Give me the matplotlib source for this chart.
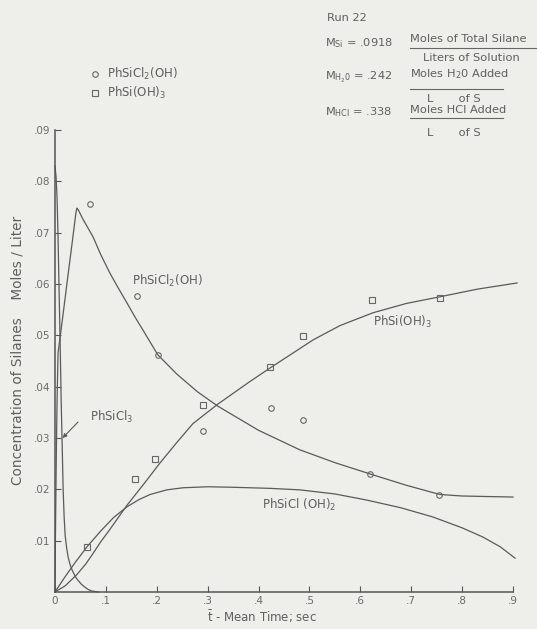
import matplotlib
matplotlib.use('Agg')
import matplotlib.pyplot as plt
from matplotlib.lines import Line2D

plt.rcParams['font.family'] = ['DejaVu Sans']

# ---------------- data ----------------
x_ticks = [0, .1, .2, .3, .4, .5, .6, .7, .8, .9]
x_tick_labels = ['0', '.1', '.2', '.3', '.4', '.5', '.6', '.7', '.8', '.9']
y_ticks = [.01, .02, .03, .04, .05, .06, .07, .08, .09]
y_tick_labels = ['.01', '.02', '.03', '.04', '.05', '.06', '.07', '.08', '.09']

# measured points: PhSiCl2(OH) (circles)
cl2oh_t = [0.069, 0.161, 0.202, 0.291, 0.424, 0.487, 0.619, 0.754]
cl2oh_c = [0.0756, 0.0577, 0.0462, 0.0314, 0.0359, 0.0335, 0.0230, 0.0189]
# measured points: PhSi(OH)3 (squares)
sioh3_t = [0.062, 0.157, 0.196, 0.291, 0.422, 0.487, 0.623, 0.756]
sioh3_c = [0.0088, 0.0220, 0.0259, 0.0364, 0.0438, 0.0499, 0.0569, 0.0573]

# curves
curve_cl3_t = [0.0, 0.002, 0.004, 0.006, 0.008, 0.010, 0.012, 0.014, 0.016, 0.018,
               0.020, 0.023, 0.026, 0.030, 0.034, 0.040, 0.045, 0.052, 0.058,
               0.065, 0.072, 0.085]
curve_cl3_c = [0.083, 0.081, 0.077, 0.069, 0.059, 0.049, 0.038, 0.029, 0.020, 0.0145,
               0.011, 0.0085, 0.0067, 0.0052, 0.0042, 0.0030, 0.0023, 0.0015, 0.0010,
               0.0005, 0.0002, 0.0]

curve_cl2oh_t = [0.0, 0.001, 0.0025, 0.004, 0.006, 0.010, 0.016, 0.024, 0.032, 0.038,
                 0.041, 0.043, 0.046, 0.055, 0.0747, 0.090, 0.108, 0.125, 0.1415, 0.157,
                 0.173, 0.202, 0.240, 0.280, 0.320, 0.400, 0.481, 0.550, 0.619, 0.690,
                 0.756, 0.800, 0.850, 0.900]
curve_cl2oh_c = [0.0, 0.012, 0.026, 0.037, 0.0466, 0.0496, 0.0542, 0.0605, 0.0667, 0.0714,
                 0.0738, 0.0748, 0.0744, 0.0726, 0.0692, 0.0657, 0.0621, 0.0591, 0.0563, 0.0536,
                 0.0510, 0.0462, 0.0424, 0.0390, 0.0362, 0.0315, 0.0277, 0.0252, 0.0230, 0.0208,
                 0.0190, 0.0187, 0.0186, 0.0185]

curve_sioh3_t = [0.0, 0.020, 0.043, 0.060, 0.0747, 0.090, 0.105, 0.1415, 0.175, 0.206,
                 0.240, 0.271, 0.320, 0.383, 0.422, 0.507, 0.560, 0.625, 0.690, 0.756,
                 0.830, 0.908]
curve_sioh3_c = [0.0, 0.0012, 0.0034, 0.0054, 0.0075, 0.0098, 0.0118, 0.0169, 0.0211, 0.0251,
                 0.0292, 0.0328, 0.0366, 0.0410, 0.0436, 0.0491, 0.0519, 0.0544, 0.0562, 0.0575,
                 0.0590, 0.0602]

curve_clo2_t = [0.0, 0.020, 0.040, 0.0629, 0.090, 0.115, 0.1415, 0.165, 0.187, 0.220,
                0.251, 0.300, 0.350, 0.420, 0.481, 0.550, 0.613, 0.680, 0.743, 0.800,
                0.841, 0.875, 0.904]
curve_clo2_c = [0.0, 0.0030, 0.0058, 0.0088, 0.0119, 0.0145, 0.0166, 0.0180, 0.0190, 0.0199,
                0.0203, 0.0205, 0.0204, 0.0202, 0.0199, 0.0191, 0.0179, 0.0164, 0.0146, 0.0125,
                0.0107, 0.0088, 0.0066]

# ---------------- figure ----------------
W, H = 537, 629
BG = '#eeeeeb'
INK = '#5a5a5a'
fig = plt.figure(figsize=(W / 100, H / 100), dpi=100)
fig.patch.set_facecolor(BG)


def P(x, y):
    return x / W, 1 - y / H


ax = fig.add_axes([55 / W, 1 - 592 / H, 458 / W, 462 / H])
ax.set_facecolor(BG)
ax.set_xlim(0, 0.9)
ax.set_ylim(0, 0.09)
for s in ['top', 'right']:
    ax.spines[s].set_visible(False)
for s in ['left', 'bottom']:
    ax.spines[s].set_color('#555555')
    ax.spines[s].set_linewidth(1.1)

ax.set_xticks(x_ticks)
ax.set_xticklabels(x_tick_labels)
ax.set_yticks(y_ticks)
ax.set_yticklabels(y_tick_labels)
ax.tick_params(axis='both', direction='in', length=4, width=0.8, color='#555555',
               labelsize=7.5, labelcolor='#6a6a6a', pad=3)

lw = 0.9
ax.plot(curve_cl3_t, curve_cl3_c, color=INK, lw=lw, clip_on=False)
ax.plot(curve_cl2oh_t, curve_cl2oh_c, color=INK, lw=lw, clip_on=False)
ax.plot(curve_sioh3_t, curve_sioh3_c, color=INK, lw=lw, clip_on=False)
ax.plot(curve_clo2_t, curve_clo2_c, color=INK, lw=lw, clip_on=False)

ax.plot(cl2oh_t, cl2oh_c, 'o', ms=4, mfc='none', mec='#666666', mew=0.8, ls='none')
ax.plot(sioh3_t, sioh3_c, 's', ms=3.8, mfc='none', mec='#666666', mew=0.8, ls='none')

tc = '#5f5f5f'
fs = 8.5
ax.text(0.151, 0.0606, r'PhSiCl$_2$(OH)', fontsize=fs, color=tc, va='center', ha='left')
ax.text(0.625, 0.0526, r'PhSi(OH)$_3$', fontsize=fs, color=tc, va='center', ha='left')
ax.text(0.069, 0.0341, r'PhSiCl$_3$', fontsize=fs, color=tc, va='center', ha='left')
ax.text(0.407, 0.0170, r'PhSiCl (OH)$_2$', fontsize=fs, color=tc, va='center', ha='left')
ax.annotate('', xy=(0.011, 0.0296), xytext=(0.049, 0.0335),
            arrowprops=dict(arrowstyle='-|>', color=INK, lw=0.8, mutation_scale=6))

# axis labels
fig.text(*P(18, 350), 'Concentration of Silanes    Moles / Liter', rotation=90,
         fontsize=9.8, color=tc, ha='center', va='center')
fig.text(*P(262, 617), r'$\bar{\mathrm{t}}$ - Mean Time; sec', fontsize=8.5, color=tc,
         ha='center', va='center')

# legend
fig.add_artist(Line2D([95 / W], [1 - 74 / H], marker='o', ms=4, mfc='none', mec='#666666',
                      mew=0.8, ls='none', transform=fig.transFigure))
fig.add_artist(Line2D([95 / W], [1 - 93 / H], marker='s', ms=3.8, mfc='none', mec='#666666',
                      mew=0.8, ls='none', transform=fig.transFigure))
fig.text(*P(107, 74), r'PhSiCl$_2$(OH)', fontsize=fs, color=tc, va='center', ha='left')
fig.text(*P(107, 93), r'PhSi(OH)$_3$', fontsize=fs, color=tc, va='center', ha='left')

# top right block
fs2 = 8.2
fig.text(*P(327, 18), 'Run 22', fontsize=fs2, color=tc, va='center', ha='left')
fig.text(*P(325, 43), r'M$_{\mathrm{Si}}$ = .0918', fontsize=fs2, color=tc, va='center', ha='left')
fig.text(*P(325, 77), r'M$_{\mathrm{H_20}}$ = .242', fontsize=fs2, color=tc, va='center', ha='left')
fig.text(*P(325, 112), r'M$_{\mathrm{HCl}}$ = .338', fontsize=fs2, color=tc, va='center', ha='left')

fig.text(*P(410, 39), 'Moles of Total Silane', fontsize=fs2, color=tc, va='center', ha='left')
fig.text(*P(423, 58), 'Liters of Solution', fontsize=fs2, color=tc, va='center', ha='left')
fig.text(*P(410, 74), r'Moles H$_2$0 Added', fontsize=fs2, color=tc, va='center', ha='left')
fig.text(*P(427, 99), 'L       of S', fontsize=fs2, color=tc, va='center', ha='left')
fig.text(*P(410, 110), 'Moles HCl Added', fontsize=fs2, color=tc, va='center', ha='left')
fig.text(*P(427, 133), 'L       of S', fontsize=fs2, color=tc, va='center', ha='left')

for (x0, x1, y) in [(410, 537, 48), (410, 503, 89), (410, 503, 118)]:
    fig.add_artist(Line2D([x0 / W, x1 / W], [1 - y / H, 1 - y / H], color='#666666',
                          lw=0.8, transform=fig.transFigure))

fig.savefig('out.png', dpi=100, facecolor=BG)
